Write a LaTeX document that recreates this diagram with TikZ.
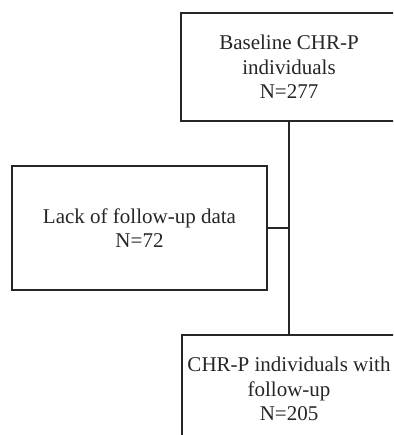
\documentclass[tikz,border=0pt]{standalone}
\usepackage{fontspec}
\setmainfont{Liberation Serif}
\begin{document}
\begin{tikzpicture}[x=1pt,y=1pt,
  box/.style={draw=black!85, line width=1.3pt, fill=white, align=center, inner sep=0pt,
    font=\fontsize{21}{24.5}\selectfont, text=black!85},
  link/.style={draw=black!85, line width=1.3pt}]
\useasboundingbox (0,0) rectangle (393,-435);
\clip (0,0) rectangle (393,-435);
\node[box, minimum width=216pt, minimum height=108pt] (base) at (289,-67)
  {Baseline CHR-P\\individuals\\N=277};
\node[box, minimum width=255pt, minimum height=124pt] (lack) at (139.5,-228)
  {Lack of follow-up data\\N=72};
\node[box, minimum width=214pt, minimum height=108pt] (fu) at (289,-389)
  {CHR-P individuals with\\follow-up\\N=205};
\draw[link] (base.south) -- (fu.north);
\coordinate (j) at (base.south |- lack.east);
\draw[link] (lack.east) -- (j);
\end{tikzpicture}
\end{document}
